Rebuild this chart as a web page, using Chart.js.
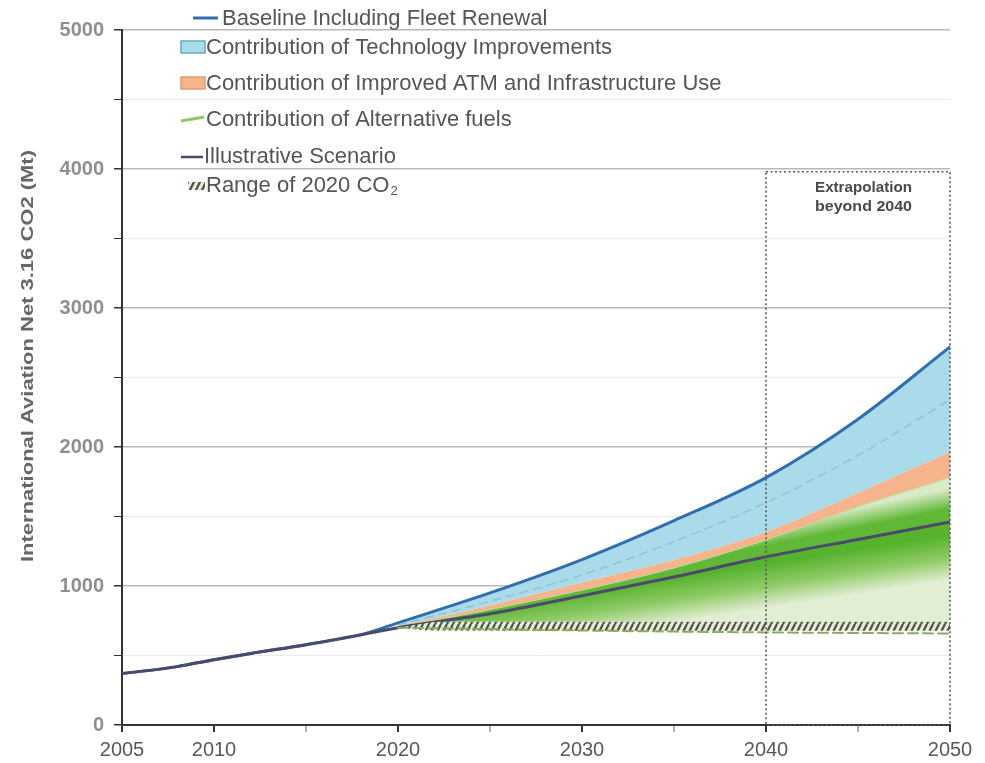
<!DOCTYPE html>
<html>
<head>
<meta charset="utf-8">
<script src="https://cdn.jsdelivr.net/npm/chart.js@4.4.1/dist/chart.umd.min.js"></script>
<style>
  html, body { margin: 0; padding: 0; background: #ffffff; }
  #wrap { width: 985px; height: 763px; position: relative; }
</style>
</head>
<body>
<div id="wrap"><canvas id="c" width="985" height="763"></canvas></div>
<script>
// ---- data (Mt CO2) ----
const historyYears = [2005, 2008, 2010, 2012, 2015, 2018];
const historyCO2   = [370, 420, 470, 515, 578, 650];
const projYears    = [2020, 2025, 2030, 2035, 2040, 2045, 2050];
const baseline     = [735, 950, 1190, 1470, 1780, 2200, 2720];
const techMid      = [720, 890, 1080, 1320, 1600, 1940, 2340];
const atmTop       = [712, 860, 1025, 1187, 1388, 1669, 1964];
const fuelsTop     = [706, 830, 970, 1129, 1331, 1570, 1780];
const scenario     = [700, 800, 930, 1065, 1210, 1335, 1460];
const fuelsLow     = [700, 690, 680, 672, 666, 662, 658];
const rangeYears   = [2020, 2022, 2030, 2040, 2050];
const rangeHigh    = [700, 742, 742, 742, 742];
const rangeLow     = [700, 680, 678, 678, 678];
const xTickLabels  = [2005, 2010, 2020, 2030, 2040, 2050];
const yTickLabels  = [0, 1000, 2000, 3000, 4000, 5000];
const extrapolationYears = [2040, 2050];
const extrapolationTop = 3980;

const pts = (xs, ys) => xs.map((x, i) => ({ x, y: ys[i] }));

// hatched fill for the 2020 CO2 range
const canvas = document.getElementById('c');
const mainCtx = canvas.getContext('2d');
function makeHatch() {
  const c = document.createElement('canvas');
  c.width = 6; c.height = 12;
  const g = c.getContext('2d');
  g.fillStyle = '#e6ebd8';
  g.fillRect(0, 0, 6, 12);
  g.strokeStyle = '#4f4f47';
  g.lineWidth = 2.2;
  g.beginPath();
  g.moveTo(-3, 12); g.lineTo(3, 0);
  g.moveTo(3, 12); g.lineTo(9, 0);
  g.stroke();
  return mainCtx.createPattern(c, 'repeat');
}
const hatch = makeHatch();

// gradient across a tilted boundary, given in data coordinates
function bandGradient(chart, x1, v1, x2, v2, lightDown, before, after, stops) {
  const { ctx, chartArea, scales } = chart;
  if (!chartArea || !scales.x || !scales.y) return stops[0][1];
  const ax = scales.x.getPixelForValue(x1), ay = scales.y.getPixelForValue(v1);
  const bx = scales.x.getPixelForValue(x2), by = scales.y.getPixelForValue(v2);
  const L = Math.hypot(bx - ax, by - ay);
  let nx = -(by - ay) / L, ny = (bx - ax) / L;
  if ((lightDown && ny < 0) || (!lightDown && ny > 0)) { nx = -nx; ny = -ny; }
  const mx = (ax + bx) / 2, my = (ay + by) / 2;
  const g = ctx.createLinearGradient(mx - nx * before, my - ny * before, mx + nx * after, my + ny * after);
  stops.forEach(([o, c]) => g.addColorStop(o, c));
  return g;
}

const lowerGreen = (c) => bandGradient(c.chart, 2027, 720, 2050, 1190, true, 24, 20,
  [[0, '#56b32d'], [0.5, '#8fca66'], [1, '#e2eed3']]);
const upperGreen = (c) => bandGradient(c.chart, 2040, 1331, 2050, 1600, false, 6, 14,
  [[0, '#5fb836'], [1, '#d9ebc6']]);

const BLUE = '#2f6fae';
const SCEN = '#4b4a6c';
const FONT = '"Liberation Sans", Arial, sans-serif';

// text drawn at a given width along its own direction
function fitText(ctx, text, x, y, width) {
  const w = ctx.measureText(text).width;
  ctx.save();
  ctx.translate(x, y);
  ctx.scale(width / w, 1);
  ctx.fillText(text, 0, 0);
  ctx.restore();
}

// extrapolation box, legend and axis title
const decorations = {
  id: 'decorations',
  afterDatasetsDraw(chart) {
    const { ctx, scales: { x, y } } = chart;
    const x1 = x.getPixelForValue(extrapolationYears[0]);
    const x2 = x.getPixelForValue(extrapolationYears[1]);
    const yt = y.getPixelForValue(extrapolationTop);
    const yb = y.getPixelForValue(0);
    ctx.save();
    ctx.setLineDash([2, 2.5]);
    ctx.strokeStyle = '#5a5a5a';
    ctx.lineWidth = 1.6;
    ctx.strokeRect(x1, yt, x2 - x1, yb - yt);
    ctx.setLineDash([]);
    ctx.fillStyle = '#4a4a4a';
    ctx.font = 'bold 15px ' + FONT;
    ctx.textBaseline = 'middle';
    ctx.textAlign = 'left';
    fitText(ctx, 'Extrapolation', 815, 188, 97);
    fitText(ctx, 'beyond 2040', 815, 207, 97);
    ctx.restore();
  },
  afterDraw(chart) {
    const ctx = chart.ctx;
    ctx.save();
    // y axis title
    ctx.translate(28, 356);
    ctx.rotate(-Math.PI / 2);
    ctx.fillStyle = '#666666';
    ctx.font = 'bold 17px ' + FONT;
    ctx.textAlign = 'center';
    ctx.textBaseline = 'middle';
    fitText(ctx, 'International Aviation Net 3.16 CO2 (Mt)', 0, 0, 412);
    ctx.restore();

    // legend
    ctx.save();
    const ref = 'Contribution of Improved ATM and Infrastructure Use';
    ctx.font = '20px ' + FONT;
    const fs = Math.min(22, 20 * 570 / ctx.measureText(ref).width);
    ctx.font = fs.toFixed(2) + 'px ' + FONT;
    ctx.textBaseline = 'middle';
    ctx.fillStyle = '#555555';
    ctx.lineCap = 'butt';

    // Baseline
    ctx.strokeStyle = BLUE; ctx.lineWidth = 3;
    ctx.beginPath(); ctx.moveTo(193, 18); ctx.lineTo(218, 18); ctx.stroke();
    ctx.fillText('Baseline Including Fleet Renewal', 222, 19);
    // Technology
    ctx.fillStyle = '#aadcec'; ctx.fillRect(181, 41, 24, 12);
    ctx.strokeStyle = '#6aa9bf'; ctx.lineWidth = 1.5; ctx.strokeRect(181, 41, 24, 12);
    ctx.fillStyle = '#555555';
    ctx.fillText('Contribution of Technology Improvements', 206, 48);
    // ATM
    ctx.fillStyle = '#f6b48c'; ctx.fillRect(181, 77, 24, 12);
    ctx.strokeStyle = '#e09a70'; ctx.strokeRect(181, 77, 24, 12);
    ctx.fillStyle = '#555555';
    ctx.fillText(ref, 206, 84);
    // Alternative fuels
    ctx.strokeStyle = '#8cc860'; ctx.lineWidth = 3;
    ctx.beginPath(); ctx.moveTo(181, 121); ctx.lineTo(204, 117); ctx.stroke();
    ctx.fillText('Contribution of Alternative fuels', 206, 120);
    // Scenario
    ctx.strokeStyle = SCEN; ctx.lineWidth = 2.5;
    ctx.beginPath(); ctx.moveTo(181, 157); ctx.lineTo(203, 157); ctx.stroke();
    ctx.fillText('Illustrative Scenario', 204, 157);
    // Range
    ctx.fillStyle = hatch; ctx.fillRect(188, 182, 17, 8);
    ctx.fillStyle = '#555555';
    const t = 'Range of 2020 CO';
    ctx.fillText(t, 206, 186);
    const w = ctx.measureText(t).width;
    ctx.font = (fs * 0.6).toFixed(2) + 'px ' + FONT;
    ctx.fillText('2', 206 + w + 1, 191);
    ctx.restore();
  }
};

const line = (data, extra) => Object.assign({
  data, pointRadius: 0, pointHoverRadius: 0, borderWidth: 0, fill: false,
  cubicInterpolationMode: 'monotone'
}, extra);

new Chart(canvas, {
  type: 'line',
  data: {
    datasets: [
      line(pts(rangeYears, rangeLow), { label: 'rangeLow' }),
      line(pts(rangeYears, rangeHigh), { label: 'Range of 2020 CO2', fill: '-1', backgroundColor: hatch, tension: 0, cubicInterpolationMode: 'default' }),
      line(pts(historyYears.concat(projYears), historyCO2.concat(scenario)), {
        label: 'Illustrative Scenario', borderColor: SCEN, borderWidth: 3, fill: 1, backgroundColor: lowerGreen }),
      line(pts(projYears, fuelsTop), { label: 'Contribution of Alternative fuels', borderColor: '#b9dc95', borderWidth: 1, fill: 2, backgroundColor: upperGreen }),
      line(pts(projYears, atmTop), { label: 'Contribution of Improved ATM and Infrastructure Use', fill: 3, backgroundColor: '#f6b48c' }),
      line(pts(historyYears.concat(projYears), historyCO2.concat(baseline)), {
        label: 'Baseline Including Fleet Renewal', borderColor: BLUE, borderWidth: 3, fill: 4, backgroundColor: '#a9dbeb' }),
      line(pts(projYears, techMid), { label: 'techMid', order: -1, borderColor: '#94c2d2', borderWidth: 1.5, borderDash: [8, 6] }),
      line(pts(projYears, fuelsLow), { label: 'fuelsLow', order: -1, borderColor: '#86ae5a', borderWidth: 2, borderDash: [10, 5] })
    ]
  },
  options: {
    responsive: false,
    animation: false,
    devicePixelRatio: 1,
    layout: { padding: { top: 30, right: 35, bottom: 0, left: 0 } },
    plugins: { legend: { display: false }, tooltip: { enabled: false } },
    elements: { line: { borderCapStyle: 'round' } },
    scales: {
      x: {
        type: 'linear', min: 2005, max: 2050,
        afterBuildTicks: (s) => { const t = []; for (let v = 2005; v <= 2050; v += 5) t.push({ value: v }); s.ticks = t; },
        afterFit: (s) => { s.height = 38; },
        ticks: {
          autoSkip: false, maxRotation: 0, padding: 6, color: '#585858',
          font: { family: FONT, size: 20 },
          callback: (v) => xTickLabels.includes(v) ? String(v) : ''
        },
        grid: {
          drawOnChartArea: false, tickLength: 7, lineWidth: 2,
          tickColor: (c) => xTickLabels.includes(c.tick && c.tick.value) ? '#333333' : '#b0b0b0'
        },
        border: { color: '#333333', width: 2 }
      },
      y: {
        min: 0, max: 5000,
        afterBuildTicks: (s) => { const t = []; for (let v = 0; v <= 5000; v += 500) t.push({ value: v }); s.ticks = t; },
        afterFit: (s) => { s.width = 122; },
        ticks: {
          autoSkip: false, padding: 10, color: '#8f8f8f',
          font: { family: FONT, size: 20, weight: 'bold' },
          callback: (v) => yTickLabels.includes(v) ? String(v) : ''
        },
        grid: {
          tickLength: 8,
          color: (c) => (c.tick && c.tick.value % 1000 === 0) ? '#b9b9b9' : '#ececec',
          lineWidth: (c) => (c.tick && c.tick.value % 1000 === 0) ? 1.5 : 1,
          tickColor: '#333333'
        },
        border: { color: '#333333', width: 2 }
      }
    }
  },
  plugins: [decorations]
});
</script>
</body>
</html>
